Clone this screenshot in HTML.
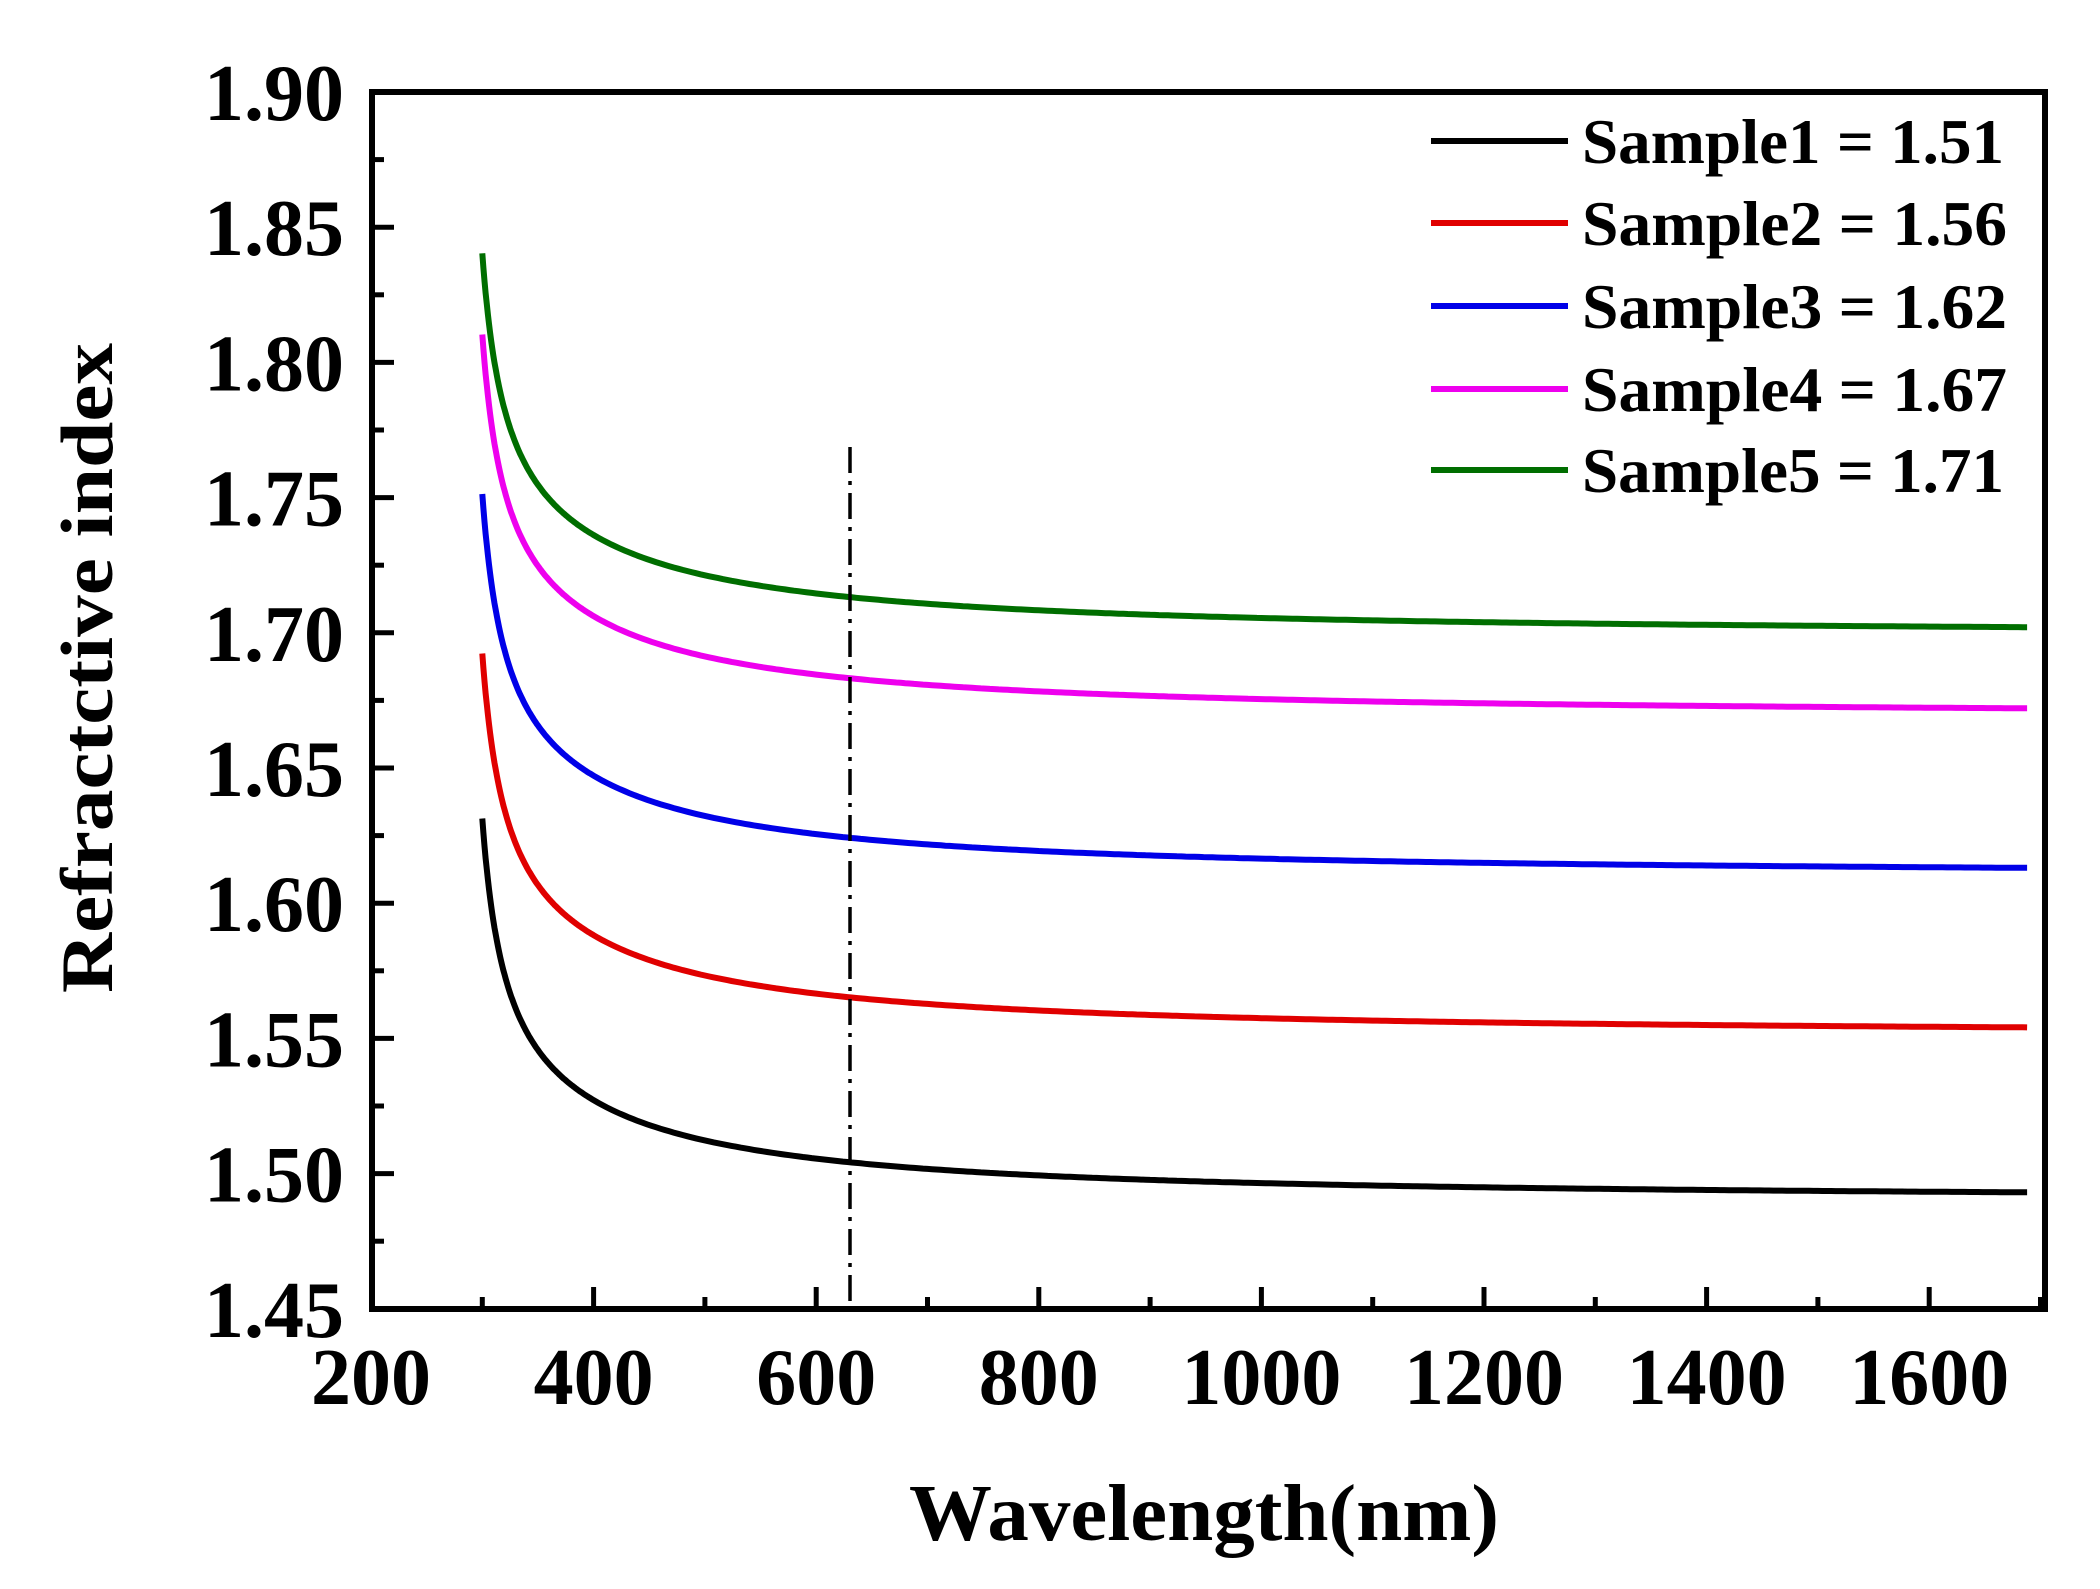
<!DOCTYPE html>
<html><head><meta charset="utf-8"><style>
html,body{margin:0;padding:0;background:#fff;}
svg text{font-family:"Liberation Serif",serif;font-weight:bold;fill:#000;}
</style></head><body>
<svg id="s" width="2100" height="1584" viewBox="0 0 2100 1584" xmlns="http://www.w3.org/2000/svg">
<rect width="2100" height="1584" fill="#fff"/>
<g id="curves"></g>
<line x1="850" y1="447" x2="850" y2="1308" stroke="#000" stroke-width="3.5" stroke-dasharray="26,8,4,8"/>
<rect x="372" y="92" width="1673" height="1217" fill="none" stroke="#000" stroke-width="6"/>
<g id="ticks" stroke="#000" stroke-width="5"></g>
<g font-size="80" text-anchor="end" id="ylab"></g>
<g font-size="80" text-anchor="middle" id="xlab"></g>
<text x="1204" y="1540" font-size="80" text-anchor="middle" textLength="590" lengthAdjust="spacingAndGlyphs">Wavelength(nm)</text>
<text transform="translate(112,668) rotate(-90)" font-size="74" text-anchor="middle" textLength="650" lengthAdjust="spacingAndGlyphs">Refractctive index</text>
<g font-size="64">
<line x1="1431" y1="141" x2="1568" y2="141" stroke="#000" stroke-width="6"/>
<text x="1582" y="163" textLength="422" lengthAdjust="spacingAndGlyphs">Sample1 = 1.51</text>
<line x1="1431" y1="223" x2="1568" y2="223" stroke="#e00000" stroke-width="6"/>
<text x="1582" y="245" textLength="425" lengthAdjust="spacingAndGlyphs">Sample2 = 1.56</text>
<line x1="1431" y1="306" x2="1568" y2="306" stroke="#0000e8" stroke-width="6"/>
<text x="1582" y="328" textLength="425" lengthAdjust="spacingAndGlyphs">Sample3 = 1.62</text>
<line x1="1431" y1="389" x2="1568" y2="389" stroke="#ee00ee" stroke-width="6"/>
<text x="1582" y="411" textLength="425" lengthAdjust="spacingAndGlyphs">Sample4 = 1.67</text>
<line x1="1431" y1="470" x2="1568" y2="470" stroke="#006e00" stroke-width="6"/>
<text x="1582" y="492" textLength="422" lengthAdjust="spacingAndGlyphs">Sample5 = 1.71</text>
</g>
</svg>
<script>
var NS="http://www.w3.org/2000/svg";
function X(nm){return 371+(nm-200)*1.113;}
function Y(v){return 92+(1.90-v)/0.05*135.2;}
function mk(t,a,p){var e=document.createElementNS(NS,t);for(var k in a)e.setAttribute(k,a[k]);p.appendChild(e);return e;}
var cur=document.getElementById('curves');
var A=[1.4905,1.5515,1.6105,1.6695,1.6995],C=['#000','#e00000','#0000e8','#ee00ee','#006e00'];
for(var i=0;i<5;i++){var d='';for(var nm=300;nm<=1690;nm+=(nm<400?1:4)){var l=nm/1000;var n=A[i]+0.003/(l*l)+0.00215/(l-0.28);d+=(nm==300?'M':'L')+X(nm).toFixed(1)+','+Y(n).toFixed(1);}
mk('path',{d:d,fill:'none',stroke:C[i],'stroke-width':6},cur);}
var tk=document.getElementById('ticks');
for(var nm=300;nm<=1700;nm+=100){var maj=nm%200==0;var x=X(nm);mk('line',{x1:x,y1:1309,x2:x,y2:1309-(maj?22:12)},tk);}
for(var k=1;k<18;k++){var v=1.45+k*0.025;var y=Y(v);var maj=k%2==0;mk('line',{x1:372,y1:y,x2:372+(maj?22:12),y2:y},tk);}
var yl=document.getElementById('ylab');
for(var k=0;k<=9;k++){var v=1.45+k*0.05;var t=mk('text',{x:344,y:Y(v)+28},yl);t.textContent=v.toFixed(2);}
var xl=document.getElementById('xlab');
for(var nm=200;nm<=1600;nm+=200){var t=mk('text',{x:X(nm),y:1404},xl);t.textContent=nm;}
</script>
</body></html>
